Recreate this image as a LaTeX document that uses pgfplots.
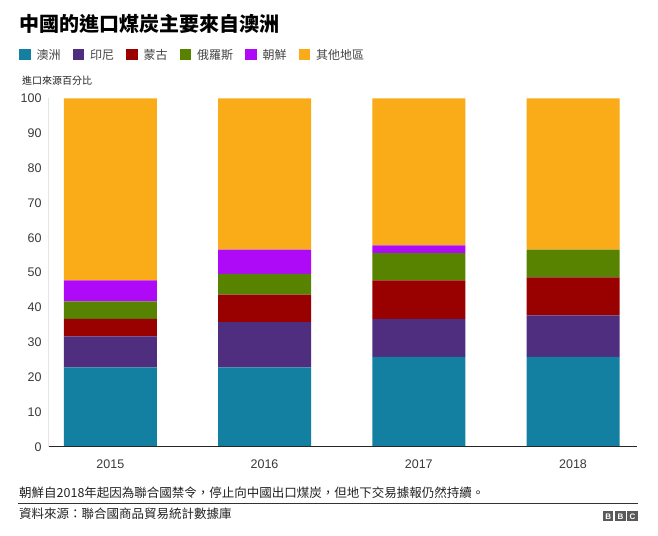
\documentclass[border=0pt]{standalone}
\usepackage{pgfplots}
\pgfplotsset{compat=1.18}
\usepackage{fontspec}
\setmainfont{Liberation Sans}
\newfontfamily\cjk{Noto Sans CJK TC}
\definecolor{cA}{HTML}{1380A1}
\definecolor{cB}{HTML}{4F2D7F}
\definecolor{cC}{HTML}{990000}
\definecolor{cD}{HTML}{588300}
\definecolor{cE}{HTML}{AF0AF8}
\definecolor{cF}{HTML}{FAAB18}
\definecolor{txt}{HTML}{222222}
\definecolor{tick}{HTML}{3A3A3A}
\pgfplotsset{sqlegend/.style={legend image code/.code={\fill[##1] (0pt,-5.5pt) rectangle (11.5pt,5.5pt);}}}
\pgfplotstableread{
x a b c d e f
0 22.8 8.9 5.0 5.0 6.1 52.2
1 22.8 13.0 7.9 5.9 7.0 43.4
2 25.8 10.9 11.1 7.8 2.2 42.2
3 25.8 11.9 10.9 8.0 0 43.4
}\data
\begin{document}
\begin{tikzpicture}[x=1pt,y=1pt]
\path[use as bounding box, fill=white] (0,0) rectangle (658,535);
\node[anchor=west, inner sep=0pt, text=black] at (19,511) {\cjk\bfseries\fontsize{20}{24}\selectfont 中國的進口煤炭主要來自澳洲};
\node[anchor=west, inner sep=0pt, text=txt] at (22,454) {\cjk\fontsize{10}{12}\selectfont 進口來源百分比};
\begin{axis}[
  at={(48pt,88.3pt)}, anchor=south west,
  scale only axis, width=589pt, height=348.2pt,
  ybar stacked, bar width=0.603,
  xmin=-0.404, xmax=3.415, ymin=0, ymax=100,
  ytick={0,10,...,100}, xtick={0,1,2,3},
  xticklabels={2015,2016,2017,2018},
  axis x line=bottom, axis y line=left,
  x axis line style={-, color=black!85, line width=1.5pt},
  y axis line style={-, color=black!10, line width=0.8pt},
  major tick length=0pt, tick style={draw=none},
  axis on top,
  /pgf/number format/assume math mode=true,
  yticklabel style={text=tick, font=\fontsize{12.5}{14}\selectfont, xshift=-3pt},
  xticklabel style={text=tick, font=\fontsize{12.5}{14}\selectfont, yshift=-10pt},
  every axis plot/.append style={draw=none, sqlegend},
  legend style={at={(axis description cs:-0.0492,1.125)}, anchor=west, draw=none, fill=none,
    inner sep=0pt, font=\cjk\fontsize{12}{14}\selectfont, text=txt!85,
    /tikz/every odd column/.append style={column sep=4pt},
    /tikz/every even column/.append style={column sep=10pt}},
  legend columns=-1,
]
\addplot[fill=cA] table[x=x,y=a]{\data};
\addplot[fill=cB] table[x=x,y=b]{\data};
\addplot[fill=cC] table[x=x,y=c]{\data};
\addplot[fill=cD] table[x=x,y=d]{\data};
\addplot[fill=cE] table[x=x,y=e]{\data};
\addplot[fill=cF] table[x=x,y=f]{\data};
\legend{澳洲,印尼,蒙古,俄羅斯,朝鮮,其他地區}
\end{axis}
\node[anchor=west, inner sep=0pt, text=txt] at (19,42) {\cjk\fontsize{12.5}{15}\selectfont 朝鮮自2018年起因為聯合國禁令，停止向中國出口煤炭，但地下交易據報仍然持續。};
\draw[color=black!80, line width=0.8pt] (18,32) -- (638,32);
\node[anchor=west, inner sep=0pt, text=txt] at (19,21) {\cjk\fontsize{12.5}{15}\selectfont 資料來源：聯合國商品貿易統計數據庫};
\foreach \i/\l in {0/B,1/B,2/C}{
  \fill[black!65] (603+\i*12.2,14) rectangle ++(10.4,9.5);
  \node[text=white, inner sep=0pt, font=\bfseries\fontsize{8}{9}\selectfont] at (603+\i*12.2+5.2,18.75) {\l};
}
\end{tikzpicture}
\end{document}
